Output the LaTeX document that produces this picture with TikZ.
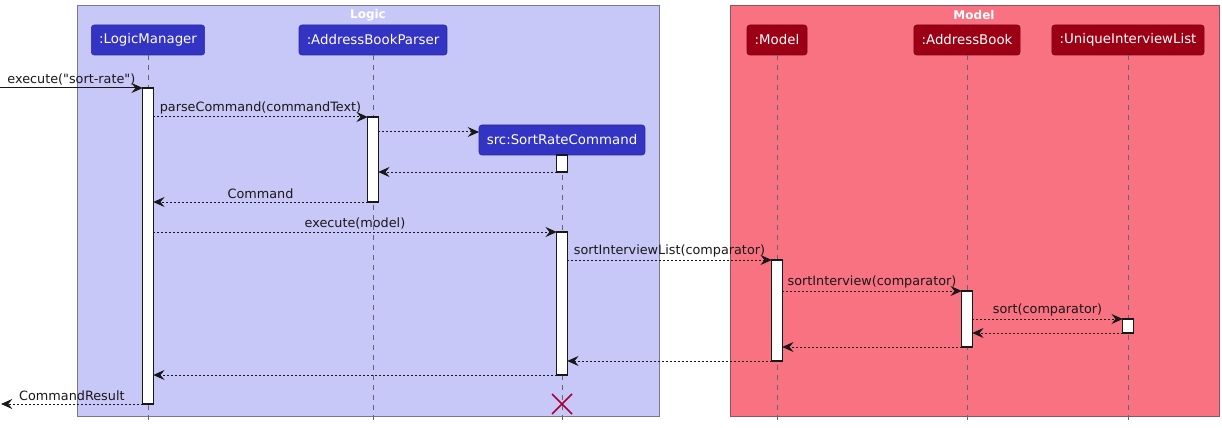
\documentclass[tikz,border=0pt]{standalone}
\usepackage{fontspec}
\setmainfont{DejaVu Sans}
\usetikzlibrary{arrows.meta}
\definecolor{logicbg}{RGB}{200,200,248}
\definecolor{logicbd}{RGB}{120,120,150}
\definecolor{modelbg}{RGB}{248,114,130}
\definecolor{modelbd}{RGB}{150,80,95}
\definecolor{logicpart}{RGB}{51,51,196}
\definecolor{modelpart}{RGB}{155,0,20}
\definecolor{ink}{RGB}{24,24,24}
\definecolor{lifegray}{RGB}{100,100,110}
\definecolor{destroyc}{RGB}{168,0,54}
\begin{document}
\begin{tikzpicture}[x=0.75pt,y=-0.75pt,
  every node/.style={inner sep=0pt, outer sep=0pt},
  grp/.style={draw=#1, line width=0.75pt},
  grptitle/.style={text=white, font=\fontsize{9}{10}\bfseries\selectfont},
  part/.style={rounded corners=2.2pt, draw=#1!80!black, fill=#1, text=white,
    font=\fontsize{10}{12}\selectfont, minimum height=22.5pt, inner xsep=5.8pt, line width=0.5pt},
  act/.style={draw=ink, fill=white, minimum width=7.8pt, line width=0.8pt},
  life/.style={draw=lifegray, dash pattern=on 3.75pt off 3.75pt, line width=0.6pt},
  tip/.style={-{Stealth[length=8.5pt,width=7.5pt,inset=3pt]}},
  msg/.style={draw=ink, dash pattern=on 1.6pt off 1.4pt, line width=0.75pt, tip},
  call/.style={draw=ink, line width=0.75pt, tip},
  lbl/.style={text=ink, font=\fontsize{9.6}{11}\selectfont, above=2.4pt},
]
\useasboundingbox (0,0) rectangle (1222,428);
% groups
\node[grp=logicbd, fill=logicbg, minimum width=436.5pt, minimum height=307.5pt, anchor=north west] (glogic) at (77,6) {};
\node[grp=modelbd, fill=modelbg, minimum width=366.75pt, minimum height=307.5pt, anchor=north west] (gmodel) at (730,6) {};
\node[grptitle] (tlogic) at (368,15) {Logic};
\node[grptitle] (tmodel) at (974,15) {Model};
% participants
\node[part=logicpart] (lm) at (148,40) {:LogicManager};
\node[part=logicpart] (abp) at (373,40) {:AddressBookParser};
\node[part=logicpart] (src) at (562,140) {src:SortRateCommand};
\node[part=modelpart] (mdl) at (777,40) {:Model};
\node[part=modelpart] (ab) at (967,40) {:AddressBook};
\node[part=modelpart] (uil) at (1128,40) {:UniqueInterviewList};
% lifeline ends
\coordinate (elm) at (148,422);
\coordinate (eabp) at (373,422);
\coordinate (esrc) at (562,422);
\coordinate (emdl) at (777,422);
\coordinate (eab) at (967,422);
\coordinate (euil) at (1128,422);
\draw[life] (lm.south) -- (elm);
\draw[life] (abp.south) -- (eabp);
\draw[life] (src.south) -- (esrc);
\draw[life] (mdl.south) -- (emdl);
\draw[life] (ab.south) -- (eab);
\draw[life] (uil.south) -- (euil);
% activations
\node[act, minimum height=237pt] (alm) at (148,246) {};
\node[act, minimum height=63.75pt] (aabp) at (373,159.5) {};
\node[act, minimum height=12.75pt] (asrc1) at (562,163.5) {};
\node[act, minimum height=107.25pt] (asrc2) at (562,303.5) {};
\node[act, minimum height=75.75pt] (amdl) at (777,310.5) {};
\node[act, minimum height=42pt] (aab) at (967,319) {};
\node[act, minimum height=10.5pt] (auil) at (1128,326) {};
% message rows
\coordinate (m1) at (0,88);
\coordinate (m2) at (0,117);
\coordinate (m3) at (0,132);
\coordinate (m4) at (0,172);
\coordinate (m5) at (0,202);
\coordinate (m6) at (0,232);
\coordinate (m7) at (0,260);
\coordinate (m8) at (0,291);
\coordinate (m9) at (0,319);
\coordinate (m10) at (0,333);
\coordinate (m11) at (0,347);
\coordinate (m12) at (0,361);
\coordinate (m13) at (0,375);
\coordinate (m14) at (0,404);
\coordinate (ext1) at (0,88);
\coordinate (ext2) at (1,404);
% messages
\draw[call] (ext1) -- node[lbl] {execute(\textquotedbl sort-rate\textquotedbl)} (alm.west |- m1);
\draw[msg] (alm.east |- m2) -- node[lbl] {parseCommand(commandText)} (aabp.west |- m2);
\draw[msg] (aabp.east |- m3) -- (src.west |- m3);
\draw[msg] (asrc1.west |- m4) -- (aabp.east |- m4);
\draw[msg] (aabp.west |- m5) -- node[lbl] {Command} (alm.east |- m5);
\draw[msg] (alm.east |- m6) -- node[lbl] {execute(model)} (asrc2.west |- m6);
\draw[msg] (asrc2.east |- m7) -- node[lbl] {sortInterviewList(comparator)} (amdl.west |- m7);
\draw[msg] (amdl.east |- m8) -- node[lbl] {sortInterview(comparator)} (aab.west |- m8);
\draw[msg] (aab.east |- m9) -- node[lbl] {sort(comparator)} (auil.west |- m9);
\draw[msg] (auil.west |- m10) -- (aab.east |- m10);
\draw[msg] (aab.west |- m11) -- (amdl.east |- m11);
\draw[msg] (amdl.west |- m12) -- (asrc2.east |- m12);
\draw[msg] (asrc2.west |- m13) -- (alm.east |- m13);
\draw[msg] (alm.west |- m14) -- node[lbl] {CommandResult} (ext2);
% destroy
\coordinate (x0) at (562,404);
\draw[destroyc, line width=1.1pt] ([shift={(-10,-10)}]x0) -- ([shift={(10,10)}]x0)
  ([shift={(-10,10)}]x0) -- ([shift={(10,-10)}]x0);
\end{tikzpicture}
\end{document}
